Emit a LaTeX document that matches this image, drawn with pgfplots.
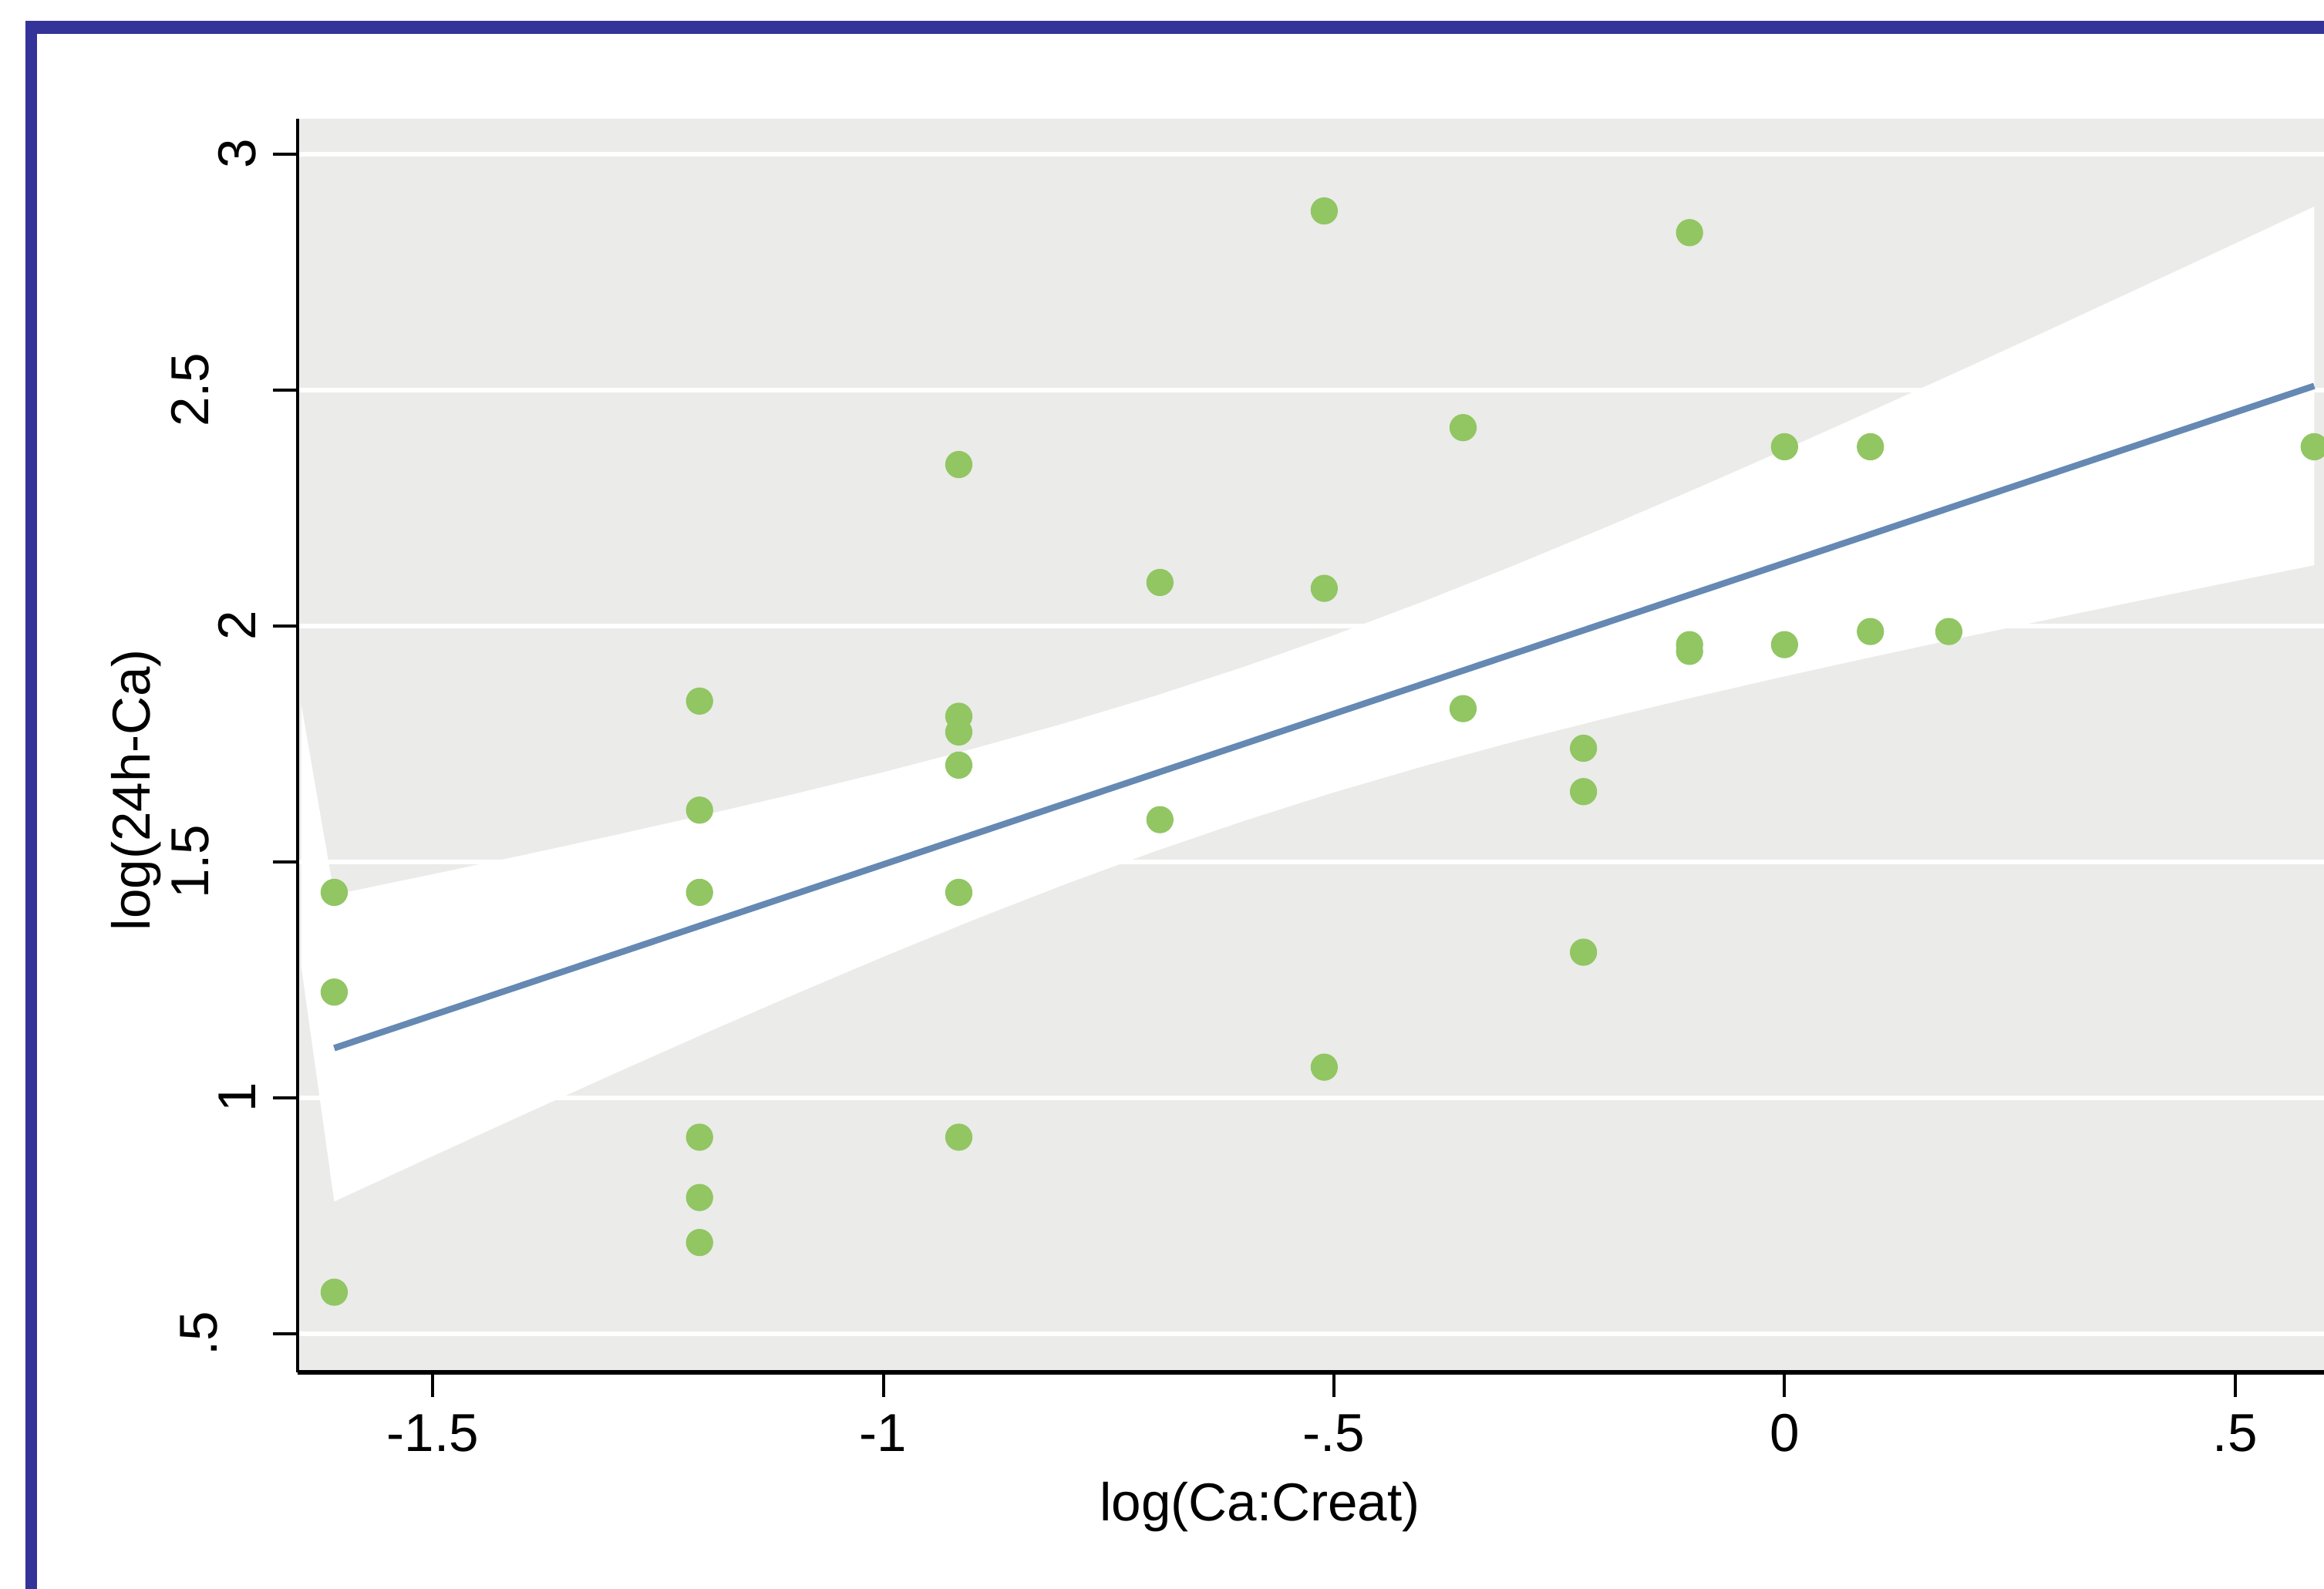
\documentclass[border=0pt]{standalone}
\usepackage{fontspec}
\setmainfont{Liberation Sans}
\usepackage{pgfplots}
\pgfplotsset{compat=1.18}
\definecolor{stframe}{HTML}{333399}
\definecolor{stbg}{HTML}{EBEBE9}
\definecolor{stgreen}{HTML}{91C663}
\definecolor{stblue}{HTML}{6589B3}

\begin{document}
\begin{tikzpicture}
\useasboundingbox (0pt,0pt) rectangle (470.4pt,321.6pt);
\clip (0pt,0pt) rectangle (470.4pt,321.6pt);
% frame of the graph window, cut at the right and bottom
\fill[stframe] (5.1pt,317.4pt) rectangle (480pt,314.7pt);
\fill[stframe] (5.1pt,317.4pt) rectangle (7.5pt,-10pt);
\begin{axis}[
  at={(60.3pt,43.8pt)}, anchor=south west,
  scale only axis, width=410.1pt, height=253.8pt,
  xmin=-1.6497, xmax=0.5987, ymin=0.418, ymax=3.075,
  axis x line*=bottom, axis y line*=left,
  x axis line style={line width=0.9pt,-},
  y axis line style={line width=0.6pt,-},
  tick align=outside, major tick length=5pt,
  tick style={black, line width=0.6pt},
  xtick={-1.5,-1,-0.5,0,0.5}, xticklabels={-1.5,-1,-.5,0,.5},
  ytick={0.5,1,1.5,2,2.5,3},
  yticklabels={\raisebox{7.8pt}{.5},1,\raisebox{9.6pt}{1.5},2,\raisebox{9.6pt}{2.5},3},
  yticklabel style={rotate=90, anchor=south},
  tick label style={font=\fontsize{10.8pt}{13pt}\selectfont},
  label style={font=\fontsize{10.8pt}{13pt}\selectfont},
  ymajorgrids, major grid style={white, line width=0.9pt},
  axis background/.style={fill=stbg},
  xlabel={log(Ca:Creat)}, ylabel={log(24h-Ca)},
  xlabel style={at={(axis description cs:0.4748,-0.1076)}, anchor=center},
  ylabel style={at={(axis description cs:-0.0797,0.4645)}, anchor=center},
]
% 95% confidence band (upper bound left to right, lower bound back)
\addplot[fill=white, draw=none] coordinates {
  (-1.646,1.833)
  (-1.6094,1.4302) (-1.5,1.4736) (-1.4,1.5140) (-1.3,1.5556) (-1.2,1.5985)
  (-1.1,1.6431) (-1.0,1.6899) (-0.9,1.7397) (-0.8,1.7930) (-0.7,1.8506)
  (-0.6,1.9130) (-0.5,1.9803) (-0.4,2.0522) (-0.3,2.1281) (-0.2,2.2074)
  (-0.1,2.2892) (0,2.3731) (0.1,2.4586) (0.2,2.5452) (0.3,2.6328)
  (0.4,2.7212) (0.5,2.8101) (0.5878,2.8885)
  (0.5878,2.1283) (0.5,2.0947) (0.4,2.0558) (0.3,2.0164) (0.2,1.9762)
  (0.1,1.9352) (0,1.8929) (-0.1,1.8490) (-0.2,1.8032) (-0.3,1.7547)
  (-0.4,1.7028) (-0.5,1.6471) (-0.6,1.5866) (-0.7,1.5212) (-0.8,1.4511)
  (-0.9,1.3767) (-1.0,1.2987) (-1.1,1.2178) (-1.2,1.1347) (-1.3,1.0498)
  (-1.4,0.9636) (-1.5,0.8764) (-1.6094,0.7800)
  (-1.646,1.278)
} -- cycle;
% fitted values
\addplot[stblue, line width=1.3pt] coordinates {(-1.6094,1.1051) (0.5878,2.5084)};
% observations
\addplot[only marks, color=stgreen, mark=*, mark size=2.55pt] coordinates {
  (-1.6094,1.4351) (-1.6094,1.2238) (-1.6094,0.5878)
  (-1.2040,1.8405) (-1.2040,1.6094) (-1.2040,1.4351) (-1.2040,0.9163) (-1.2040,0.7885) (-1.2040,0.6931)
  (-0.9163,2.3418) (-0.9163,1.8083) (-0.9163,1.7750) (-0.9163,1.7047) (-0.9163,1.4351) (-0.9163,0.9163)
  (-0.6931,2.0919) (-0.6931,1.5892)
  (-0.5108,2.8792) (-0.5108,2.0794) (-0.5108,1.0647)
  (-0.3567,2.4200) (-0.3567,1.8245)
  (-0.2231,1.7405) (-0.2231,1.6487) (-0.2231,1.3083)
  (-0.1054,2.8332) (-0.1054,1.9601) (-0.1054,1.9459)
  (0,2.3795) (0,1.9601)
  (0.0953,2.3795) (0.0953,1.9879)
  (0.1823,1.9879)
  (0.5878,2.3795)
};
\end{axis}
\end{tikzpicture}
\end{document}
